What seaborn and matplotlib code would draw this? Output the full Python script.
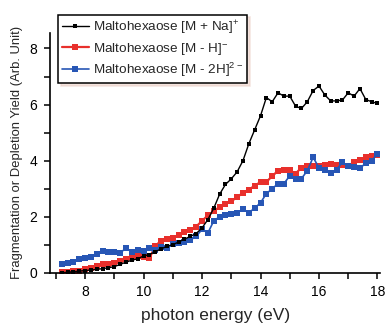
import numpy as np
import pandas as pd
import matplotlib
matplotlib.use("Agg")
import matplotlib.pyplot as plt
from matplotlib.ticker import MultipleLocator
import seaborn as sns

# photon energy grid (eV), one point every 0.2 eV
energy = [7.2, 7.4, 7.6, 7.8, 8.0, 8.2, 8.4, 8.6, 8.8, 9.0, 9.2, 9.4, 9.6, 9.8,
          10.0, 10.2, 10.4, 10.6, 10.8, 11.0, 11.2, 11.4, 11.6, 11.8, 12.0, 12.2,
          12.4, 12.6, 12.8, 13.0, 13.2, 13.4, 13.6, 13.8, 14.0, 14.2, 14.4, 14.6,
          14.8, 15.0, 15.2, 15.4, 15.6, 15.8, 16.0, 16.2, 16.4, 16.6, 16.8, 17.0,
          17.2, 17.4, 17.6, 17.8, 18.0]

# [M + Na]+
na_plus = [0.0, 0.02, 0.04, 0.06, 0.08, 0.1, 0.12, 0.15, 0.18, 0.22, 0.3, 0.38, 0.45, 0.5,
           0.6, 0.65, 0.75, 0.85, 0.95, 1.0, 1.1, 1.2, 1.3, 1.4, 1.6, 1.9,
           2.3, 2.8, 3.15, 3.35, 3.6, 4.0, 4.6, 5.1, 5.6, 6.25, 6.1, 6.42,
           6.3, 6.3, 5.94, 5.86, 6.1, 6.5, 6.66, 6.34, 6.13, 6.13, 6.16, 6.42,
           6.3, 6.57, 6.18, 6.1, 6.04]

# [M - H]-
m_h = [0.02, 0.03, 0.05, 0.08, 0.12, 0.18, 0.25, 0.3, 0.32, 0.36, 0.42, 0.5, 0.58, 0.6,
       0.55, 0.52, 0.95, 1.15, 1.2, 1.25, 1.35, 1.45, 1.52, 1.65, 1.85, 2.05,
       2.2, 2.35, 2.47, 2.55, 2.7, 2.85, 2.97, 3.1, 3.24, 3.24, 3.45, 3.64,
       3.66, 3.66, 3.54, 3.75, 3.82, 3.8, 3.8, 3.85, 3.88, 3.84, 3.84, 3.8,
       3.96, 4.02, 4.12, 4.16, 4.2]

# [M - 2H]2-
m_2h = [0.33, 0.35, 0.4, 0.5, 0.52, 0.58, 0.68, 0.78, 0.75, 0.75, 0.72, 0.87, 0.75, 0.82,
        0.78, 0.9, 0.8, 0.93, 0.9, 1.02, 1.05, 1.1, 1.17, 1.3, 1.55, 1.42,
        1.85, 2.0, 2.07, 2.1, 2.15, 2.26, 2.15, 2.3, 2.5, 2.82, 3.0, 3.18,
        3.18, 3.46, 3.34, 3.36, 3.64, 4.12, 3.74, 3.66, 3.56, 3.68, 3.94, 3.8,
        3.76, 3.72, 3.92, 4.0, 4.24]

labels = [r'Maltohexaose [M + Na]$^{+}$',
          r'Maltohexaose [M - H]$^{-}$',
          r'Maltohexaose [M - 2H]$^{2-}$']

sns.set_style("ticks")
plt.rcParams['font.family'] = ['Liberation Sans', 'DejaVu Sans']
plt.rcParams['mathtext.fontset'] = 'custom'
plt.rcParams['mathtext.rm'] = 'Liberation Sans'

fig = plt.figure(figsize=(3.86, 3.24), dpi=100)
ax = fig.add_axes([0.1295, 0.158, 0.856, 0.74])

df = pd.DataFrame({'energy': energy, 'na': na_plus, 'h': m_h, 'h2': m_2h})

sns.lineplot(data=df, x='energy', y='h', ax=ax, color='#e8302c', lw=1.6,
             marker='s', markersize=4.5, markeredgewidth=0, label=labels[1])
sns.lineplot(data=df, x='energy', y='h2', ax=ax, color='#2756b5', lw=1.2,
             marker='s', markersize=4.5, markeredgewidth=0, label=labels[2])
sns.lineplot(data=df, x='energy', y='na', ax=ax, color='black', lw=1.0,
             marker='s', markersize=3.2, markeredgewidth=0, label=labels[0])

ax.set_xlim(6.8, 18.1)
ax.set_ylim(0, 8.55)
ax.xaxis.set_major_locator(MultipleLocator(2))
ax.xaxis.set_minor_locator(MultipleLocator(1))
ax.yaxis.set_major_locator(MultipleLocator(2))
ax.yaxis.set_minor_locator(MultipleLocator(1))
ax.tick_params(which='both', direction='out', length=4, width=1.1, colors='black')
ax.tick_params(labelsize=10, pad=5)
sns.despine(ax=ax)
for s in ['left', 'bottom']:
    ax.spines[s].set_linewidth(1.2)
    ax.spines[s].set_color('black')

ax.set_xlabel('photon energy (eV)', fontsize=12.5, labelpad=6)
ax.set_ylabel('Fragmentation or Depletion Yield (Arb. Unit)', fontsize=9.4, labelpad=5)

handles, labs = ax.get_legend_handles_labels()
order = [labs.index(l) for l in labels]
leg = ax.legend([handles[i] for i in order], [labs[i] for i in order],
                loc='upper left', bbox_to_anchor=(0.15, 0.955),
                bbox_transform=fig.transFigure, fontsize=9.7, frameon=True,
                fancybox=False, edgecolor='black', handlelength=2.0,
                handletextpad=0.3, borderpad=0.3, labelspacing=0.3,
                borderaxespad=0, shadow={'color': '#e9c9bf', 'ox': 2, 'oy': -2})
leg.get_frame().set_linewidth(1.1)

plt.savefig('out.png', dpi=100)
